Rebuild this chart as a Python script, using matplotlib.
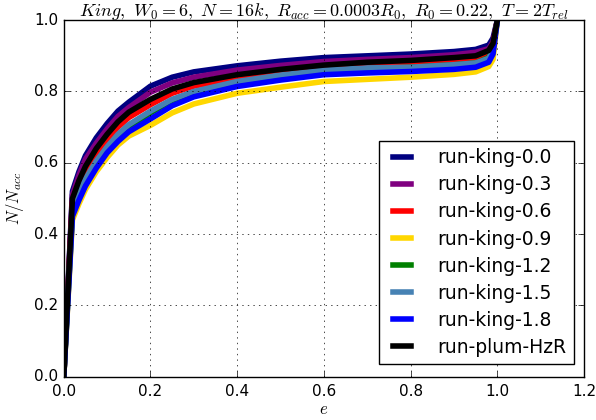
import numpy as np
import matplotlib
matplotlib.use('Agg')
import matplotlib.pyplot as plt

# eccentricity grid the curves were read at
ecc = [0.0, 0.02, 0.035, 0.05, 0.075, 0.1, 0.125, 0.15, 0.2, 0.25, 0.3, 0.4, 0.5, 0.6, 0.7, 0.8, 0.9, 0.95, 0.98, 0.99, 1.0]

# cumulative fraction N/N_acc for each run
king_00 = [0.0, 0.52, 0.575, 0.62, 0.67, 0.71, 0.745, 0.77, 0.815, 0.84, 0.855, 0.872, 0.885, 0.895, 0.900, 0.905, 0.912, 0.918, 0.930, 0.950, 1.0]
king_03 = [0.0, 0.51, 0.565, 0.61, 0.655, 0.695, 0.73, 0.755, 0.798, 0.824, 0.840, 0.860, 0.873, 0.884, 0.890, 0.895, 0.903, 0.910, 0.920, 0.940, 1.0]
king_06 = [0.0, 0.49, 0.535, 0.575, 0.625, 0.665, 0.70, 0.727, 0.763, 0.795, 0.815, 0.838, 0.853, 0.865, 0.872, 0.877, 0.885, 0.890, 0.905, 0.930, 1.0]
king_09 = [0.0, 0.44, 0.485, 0.525, 0.575, 0.615, 0.65, 0.675, 0.705, 0.74, 0.765, 0.795, 0.812, 0.828, 0.834, 0.840, 0.848, 0.855, 0.870, 0.890, 1.0]
king_12 = [0.0, 0.46, 0.505, 0.545, 0.595, 0.635, 0.67, 0.70, 0.74, 0.775, 0.798, 0.826, 0.843, 0.856, 0.864, 0.868, 0.875, 0.880, 0.895, 0.920, 1.0]
king_15 = [0.0, 0.47, 0.515, 0.555, 0.605, 0.645, 0.68, 0.707, 0.745, 0.778, 0.800, 0.828, 0.846, 0.860, 0.866, 0.868, 0.875, 0.880, 0.893, 0.915, 1.0]
king_18 = [0.0, 0.45, 0.495, 0.535, 0.585, 0.628, 0.66, 0.687, 0.723, 0.76, 0.785, 0.814, 0.832, 0.847, 0.852, 0.856, 0.862, 0.868, 0.882, 0.905, 1.0]
plum_hzr = [0.0, 0.50, 0.55, 0.59, 0.64, 0.68, 0.715, 0.742, 0.778, 0.807, 0.825, 0.847, 0.862, 0.874, 0.882, 0.887, 0.895, 0.900, 0.915, 0.935, 1.0]

runs = ['run-king-0.0', 'run-king-0.3', 'run-king-0.6', 'run-king-0.9',
        'run-king-1.2', 'run-king-1.5', 'run-king-1.8', 'run-plum-HzR']
curves = [king_00, king_03, king_06, king_09, king_12, king_15, king_18, plum_hzr]
colors = ['navy', 'purple', 'red', 'gold', 'green', 'steelblue', 'blue', 'black']

plt.style.use('classic')
fig = plt.figure(figsize=(5.96, 4.2), dpi=100, facecolor='white')
ax = fig.add_axes([0.107, 0.103, 0.873, 0.849])

for name, vals, col in zip(runs, curves, colors):
    ax.plot(ecc, vals, color=col, lw=4, label=name)

ax.set_xlim(0, 1.2)
ax.set_ylim(0, 1.0)
ax.grid(True)
ax.tick_params(labelsize=11)
ax.tick_params(axis='x', pad=5)
ax.set_xlabel(r'$e$', fontsize=12, labelpad=1)
ax.set_ylabel(r'$N/N_{acc}$', fontsize=12, labelpad=6)
ax.set_title(r'$King,\ W_0=6,\ N=16k,\ R_{acc}=0.0003R_0,\ R_0=0.22,\ T=2T_{rel}$',
             fontsize=13, pad=3)

leg = ax.legend(loc='lower right', fontsize=13.5, handlelength=1.6, handletextpad=1.1,
                bbox_to_anchor=(0.981, 0.035), borderaxespad=0, labelspacing=0.43,
                fancybox=False)
for l in leg.get_lines():
    l.set_linewidth(4)

fig.savefig('out.png', dpi=100, facecolor='white')
